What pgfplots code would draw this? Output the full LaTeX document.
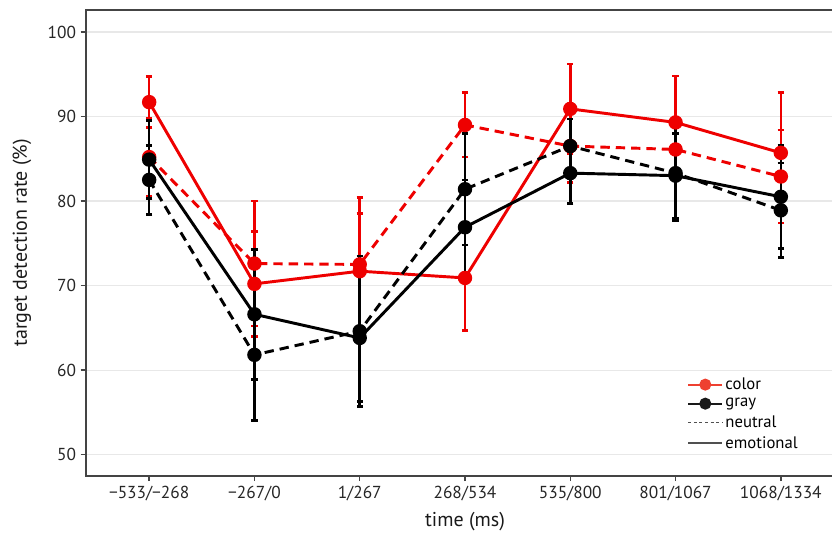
\documentclass[border=0pt]{standalone}
\usepackage{fontspec}
\setmainfont{PT Sans}
\usepackage{pgfplots}
\usepackage{pgfplotstable}
\pgfplotsset{compat=1.18}
\definecolor{myred}{RGB}{238,0,0}
\definecolor{legred}{RGB}{238,64,48}
\definecolor{axgray}{RGB}{68,68,68}
\definecolor{gridgray}{RGB}{232,232,232}
\definecolor{leggray}{RGB}{80,80,80}

\pgfplotstableread{
x y e
0 85.2 4.6
1 72.6 7.4
2 72.5 7.9
3 89.0 3.8
4 86.5 4.3
5 86.1 3.7
6 82.9 5.5
}\colorneutral
\pgfplotstableread{
x y e
0 91.7 3.0
1 70.2 6.2
2 71.7 6.8
3 70.9 6.2
4 90.9 5.3
5 89.3 5.5
6 85.7 7.1
}\coloremotional
\pgfplotstableread{
x y e
0 82.5 4.1
1 61.8 7.8
2 64.6 8.9
3 81.4 6.6
4 86.5 3.2
5 83.3 5.6
6 78.9 5.6
}\grayneutral
\pgfplotstableread{
x y e
0 84.9 4.6
1 66.6 7.7
2 63.8 7.5
3 76.9 5.6
4 83.3 3.6
5 83.0 5.0
6 80.5 6.1
}\grayemotional

\begin{document}
\begin{tikzpicture}
\begin{axis}[
  scale only axis,
  width=568.5pt, height=349.3pt,
  xmin=-0.6, xmax=6.6,
  ymin=47.5, ymax=102.6,
  xtick={0,1,2,3,4,5,6},
  xticklabels={−533/−268,−267/0,1/267,268/534,535/800,801/1067,1068/1334},
  ytick={50,60,70,80,90,100},
  /pgf/number format/assume math mode=true,
  tick label style={font=\fontsize{13pt}{15pt}\selectfont, black!85},
  label style={font=\fontsize{15pt}{17pt}\selectfont, black!90},
  xtick pos=left, ytick pos=left,
  tick align=outside,
  major tick length=4pt,
  tick style={axgray, line width=1pt},
  axis line style={axgray, line width=1.4pt},
  ymajorgrids,
  grid style={gridgray, line width=0.8pt},
  xlabel={time (ms)},
  ylabel={target detection rate (\%)},
  xlabel style={at={(axis description cs:0.5,0)}, anchor=center, yshift=-34.7pt},
  ylabel style={at={(axis description cs:-0.0845,0.5)}, anchor=center},
  legend style={at={(0.791,0.218)}, anchor=north west, draw=none, fill=none,
    font=\fontsize{12.5pt}{14pt}\selectfont, row sep=2.2pt, inner sep=1pt,
    nodes={inner sep=1.5pt}},
  legend cell align=left,
  legend image code/.code={\draw[mark repeat=2,mark phase=2,#1] plot coordinates {(0cm,0cm) (0.45cm,0cm) (0.9cm,0cm)};},
  errstyle/.style={line width=2.2pt, mark=*, mark size=4.3pt, mark options={solid},
    error bars/y dir=both, error bars/y explicit, error bars/error mark=-,
    error bars/error bar style={solid, line width=2pt},
    error bars/error mark options={rotate=90, line width=2pt, mark size=2.4pt}},
]
\addplot[myred, errstyle, dash pattern=on 7pt off 4.5pt, forget plot] table[x=x, y=y, y error=e] {\colorneutral};
\addplot[myred, errstyle, forget plot] table[x=x, y=y, y error=e] {\coloremotional};
\addplot[black, errstyle, dash pattern=on 7pt off 4.5pt, forget plot] table[x=x, y=y, y error=e] {\grayneutral};
\addplot[black, errstyle, forget plot] table[x=x, y=y, y error=e] {\grayemotional};
\addlegendimage{legred, line width=1.6pt, mark=*, mark size=3.7pt}
\addlegendentry{color}
\addlegendimage{black!90, line width=1.6pt, mark=*, mark size=3.7pt}
\addlegendentry{gray}
\addlegendimage{leggray, line width=0.9pt, dash pattern=on 2.2pt off 2pt}
\addlegendentry{neutral}
\addlegendimage{leggray, line width=1.4pt}
\addlegendentry{emotional}
\end{axis}
\pgfresetboundingbox
\path (-64.5pt,-45.2pt) rectangle (559.5pt,356.8pt);
\end{tikzpicture}
\end{document}
